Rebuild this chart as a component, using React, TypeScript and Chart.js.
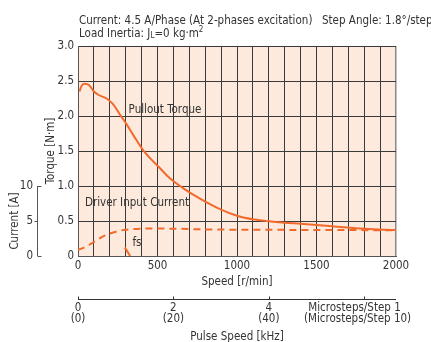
import React, { useEffect, useRef } from "react";
import { Chart, registerables } from "chart.js";

Chart.register(...registerables);

// ---------- data ----------
const torqueSpeed = [10, 20, 40, 70, 100, 130, 180, 220, 270, 306, 350, 407, 450, 507, 578, 660, 767, 893, 1000, 1110, 1200, 1300, 1400, 1600, 1800, 2000];
const pulloutTorque = [2.35, 2.42, 2.46, 2.44, 2.35, 2.3, 2.25, 2.17, 2.0, 1.88, 1.72, 1.52, 1.405, 1.275, 1.11, 0.97, 0.82, 0.67, 0.575, 0.52, 0.495, 0.475, 0.46, 0.426, 0.39, 0.37];

const currentSpeed = [0, 50, 100, 150, 200, 250, 300, 350, 430, 500, 600, 800, 1000, 1500, 2000];
const inputCurrent = [0.85, 1.35, 2.0, 2.7, 3.2, 3.55, 3.75, 3.86, 3.92, 3.92, 3.9, 3.8, 3.76, 3.72, 3.68];

const fsSpeed = [295, 328];
const fsTorque = [0.12, 0];

const speedTicks = [0, 500, 1000, 1500, 2000];
const torqueTicks = [0, 0.5, 1.0, 1.5, 2.0, 2.5, 3.0];
const currentTicks = [0, 5, 10];
const pulseTicksKHz = [0, 2, 4, 6];
const pulseLabels1 = ["0", "2", "4"];
const pulseLabels10 = ["(0)", "(20)", "(40)"];

const FONT = "'Liberation Sans Narrow', 'DejaVu Sans Condensed', sans-serif";
const FS = 11.5;
const ORANGE = "#f26a2b";
const TEXT = "#333333";
const BG = "#fdeadc";

const RPM_PER_KHZ = (1000 * 60) / 200; // 1.8 deg/step -> 200 steps/rev

const pts = (xs: number[], ys: number[]) => xs.map((x, i) => ({ x, y: ys[i] }));

const decorPlugin = {
  id: "decor",
  beforeDraw(chart: any) {
    const { ctx, chartArea } = chart;
    ctx.save();
    ctx.fillStyle = BG;
    ctx.fillRect(chartArea.left, chartArea.top, chartArea.right - chartArea.left, chartArea.bottom - chartArea.top);
    ctx.restore();
  },
  afterDraw(chart: any) {
    const { ctx, chartArea, scales } = chart;
    const x = scales.x;
    const yc = scales.yc;
    ctx.save();
    ctx.fillStyle = TEXT;
    ctx.lineWidth = 1;
    ctx.font = `${FS}px ${FONT}`;
    ctx.textBaseline = "middle";

    // header lines
    ctx.textAlign = "left";
    ctx.fillText("Current: 4.5 A/Phase (At 2-phases excitation)", 79, 21);
    ctx.fillText("Step Angle: 1.8°/step", 322, 21);
    let cx = 79;
    const ly = 34;
    const p1 = "Load Inertia: J";
    ctx.fillText(p1, cx, ly);
    cx += ctx.measureText(p1).width;
    ctx.font = `8px ${FONT}`;
    ctx.fillText("L", cx, ly + 2);
    cx += ctx.measureText("L").width;
    ctx.font = `${FS}px ${FONT}`;
    const p2 = "=0 kg·m";
    ctx.fillText(p2, cx, ly);
    cx += ctx.measureText(p2).width;
    ctx.font = `8px ${FONT}`;
    ctx.fillText("2", cx, ly - 4);
    ctx.font = `${FS}px ${FONT}`;

    // in-plot labels
    ctx.textAlign = "center";
    ctx.fillText("Pullout Torque", 165, 110);
    ctx.fillText("Driver Input Current", 137, 203);
    ctx.fillText("fs", 137, 243);

    // torque axis title
    ctx.save();
    ctx.translate(51, (chartArea.top + chartArea.bottom) / 2);
    ctx.rotate(-Math.PI / 2);
    ctx.fillText("Torque [N·m]", 0, 0);
    ctx.restore();

    // current axis
    const ax = 37.5;
    ctx.strokeStyle = "#555";
    ctx.beginPath();
    ctx.moveTo(ax, yc.getPixelForValue(0));
    ctx.lineTo(ax, yc.getPixelForValue(10));
    currentTicks.forEach((v) => {
      const py = Math.round(yc.getPixelForValue(v)) + 0.5;
      if (v === 5) {
        ctx.moveTo(ax - 3, py);
        ctx.lineTo(ax, py);
      } else {
        ctx.moveTo(ax, py);
        ctx.lineTo(ax + 4, py);
      }
    });
    ctx.stroke();
    ctx.textAlign = "right";
    currentTicks.forEach((v) => {
      ctx.fillText(String(v), 33, yc.getPixelForValue(v));
    });
    ctx.textAlign = "center";
    ctx.save();
    ctx.translate(15, yc.getPixelForValue(5));
    ctx.rotate(-Math.PI / 2);
    ctx.fillText("Current [A]", 0, 0);
    ctx.restore();

    // speed title
    const midX = (chartArea.left + chartArea.right) / 2;
    ctx.fillText("Speed [r/min]", midX, 282);

    // pulse speed axis
    const py = 299.5;
    ctx.strokeStyle = "#333";
    ctx.beginPath();
    ctx.moveTo(x.getPixelForValue(0), py);
    ctx.lineTo(x.getPixelForValue(2000), py);
    pulseTicksKHz.forEach((k) => {
      const px = Math.round(x.getPixelForValue(k * RPM_PER_KHZ)) + 0.5;
      ctx.moveTo(px, py);
      ctx.lineTo(px, py - 3);
    });
    ctx.stroke();
    pulseLabels1.forEach((t, i) => {
      const px = x.getPixelForValue(pulseTicksKHz[i] * RPM_PER_KHZ);
      ctx.fillText(t, px, 308);
      ctx.fillText(pulseLabels10[i], px, 319);
    });
    ctx.fillText("Microsteps/Step 1", 354.5, 308);
    ctx.fillText("(Microsteps/Step 10)", 357.5, 319);
    ctx.fillText("Pulse Speed [kHz]", midX, 337);
    ctx.restore();
  },
};

export default function App() {
  const ref = useRef<HTMLCanvasElement>(null);
  useEffect(() => {
    if (!ref.current) return;
    const chart = new Chart(ref.current, {
      type: "line",
      data: {
        datasets: [
          {
            label: "Pullout Torque",
            data: pts(torqueSpeed, pulloutTorque),
            borderColor: ORANGE,
            borderWidth: 2,
            pointRadius: 0,
            cubicInterpolationMode: "monotone",
            yAxisID: "y",
          },
          {
            label: "Driver Input Current",
            data: pts(currentSpeed, inputCurrent),
            borderColor: ORANGE,
            borderWidth: 2,
            borderDash: [7, 5],
            pointRadius: 0,
            cubicInterpolationMode: "monotone",
            yAxisID: "yc",
          },
          {
            label: "fs",
            data: pts(fsSpeed, fsTorque),
            borderColor: ORANGE,
            borderWidth: 2,
            pointRadius: 0,
            yAxisID: "y",
          },
        ],
      },
      options: {
        responsive: false,
        animation: false,
        devicePixelRatio: 1,
        layout: { padding: { top: 46, right: 35, left: 0, bottom: 0 } },
        plugins: { legend: { display: false }, tooltip: { enabled: false }, title: { display: false } },
        scales: {
          x: {
            type: "linear",
            min: 0,
            max: 2000,
            afterFit: (s: any) => {
              s.height = 86;
            },
            afterBuildTicks: (s: any) => {
              const t = [];
              for (let v = 0; v <= 2000; v += 100) t.push({ value: v });
              s.ticks = t;
            },
            ticks: {
              autoSkip: false,
              maxRotation: 0,
              padding: 3,
              color: TEXT,
              font: { family: FONT, size: FS },
              callback: (v: any) => (speedTicks.includes(Number(v)) ? String(v) : ""),
            },
            grid: {
              drawTicks: false,
              color: (c: any) => (c.tick && c.tick.value === 2000 ? "#888" : "#3a3a3a"),
              lineWidth: (c: any) => (c.tick && c.tick.value === 2000 ? 1.5 : 1),
            },
            border: { display: true, color: "#555" },
          },
          y: {
            type: "linear",
            min: 0,
            max: 3,
            afterFit: (s: any) => {
              s.width = 78;
            },
            afterBuildTicks: (s: any) => {
              s.ticks = torqueTicks.map((v) => ({ value: v }));
            },
            ticks: {
              padding: 4,
              color: TEXT,
              font: { family: FONT, size: FS },
              callback: (v: any) => (Number(v) === 0 ? "0" : Number(v).toFixed(1)),
            },
            grid: { drawTicks: false, color: "#3a3a3a" },
            border: { display: true, color: "#555" },
          },
          yc: {
            type: "linear",
            display: false,
            min: 0,
            max: 30,
          },
        },
      },
      plugins: [decorPlugin],
    } as any);
    return () => chart.destroy();
  }, []);
  return (
    <div style={{ position: "absolute", left: 0, top: 0, width: 431, height: 342, background: "#fff" }}>
      <canvas ref={ref} width={431} height={342} style={{ display: "block", width: 431, height: 342 }} />
    </div>
  );
}
